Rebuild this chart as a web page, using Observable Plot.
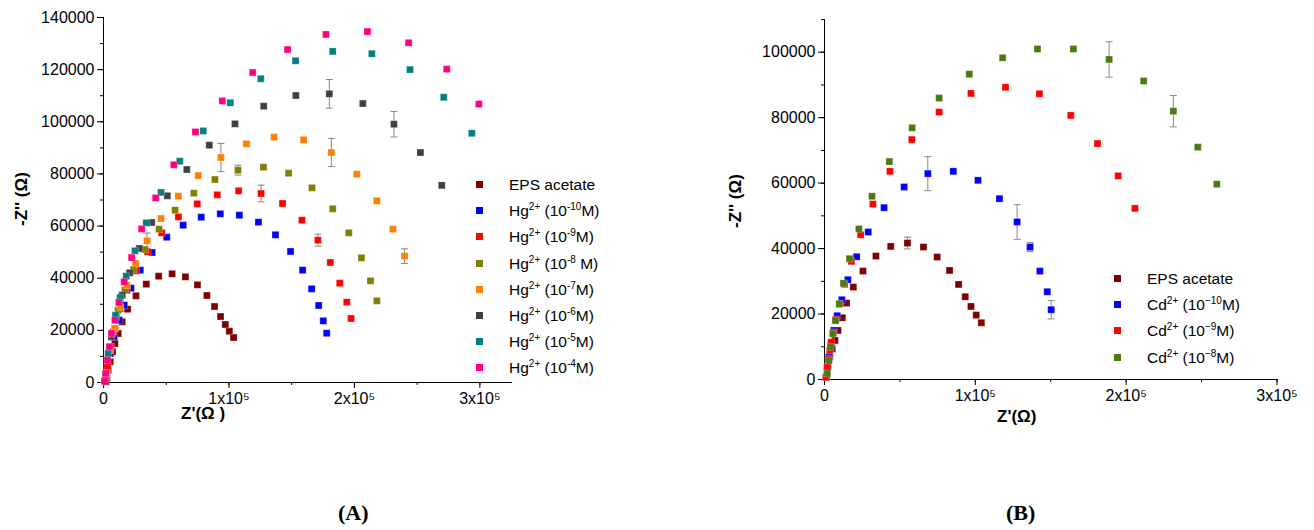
<!DOCTYPE html>
<html>
<head>
<meta charset="utf-8">
<script src="https://cdn.jsdelivr.net/npm/d3@7"></script>
<script src="https://cdn.jsdelivr.net/npm/@observablehq/plot@0.6"></script>
<style>
  body { margin: 0; background: #fff; font-family: "Liberation Sans", Arial, sans-serif; }
  #wrap { position: relative; width: 1314px; height: 530px; overflow: hidden; }
  .chart { position: absolute; top: 0; }
  .ylab { position: absolute; font-weight: bold; font-size: 17px; transform: rotate(-90deg); transform-origin: left top; white-space: nowrap; }
  .xlab { position: absolute; font-weight: bold; font-size: 17px; white-space: nowrap; }
  .legend { position: absolute; font-size: 15.5px; line-height: 26.2px; }
  .legend div { white-space: nowrap; height: 26.2px; }
  .legend sup { font-size: 10px; line-height: 0; vertical-align: 6px; }
  .legend span.sw { display: inline-block; width: 7px; height: 7px; margin-right: 26px; vertical-align: 2px; }
  .panel { position: absolute; top: 500px; font-family: "Liberation Serif", serif; font-size: 22px; }
</style>
</head>
<body>
<div id="wrap">
  <div id="chartA" class="chart" style="left:0"></div>
  <div id="chartB" class="chart" style="left:720px"></div>
  <div class="ylab" style="left:12px;top:226px">-Z'' (Ω)</div>
  <div class="xlab" style="left:181px;top:404px">Z'(Ω )</div>
  <div class="ylab" style="left:726px;top:228px">-Z'' (Ω)</div>
  <div class="xlab" style="left:997px;top:407px">Z'(Ω)</div>
  <div id="legA" class="legend" style="left:476px;top:172px"></div>
  <div id="legB" class="legend" style="left:1114px;top:266px"></div>
  <div class="panel" style="left:338px"><b>(A)</b></div>
  <div class="panel" style="left:1006px"><b>(B)</b></div>
</div>
<script>
// ---- panel A: Hg2+ ----
const hgNames = ["EPS acetate", "10-10", "10-9", "10-8 ", "10-7", "10-6", "10-5", "10-4"];
const hgColors = ["#7f0000", "#0000ff", "#ff0000", "#808000", "#ff8000", "#404040", "#008080", "#ff0080"];

const hgEps = [[103700,17260],[100300,19690],[97100,22250],[93300,25310],[88500,29150],[82400,33370],[74900,37460],[65300,40530],[54700,41680],[44000,40780],[34100,37720],[25900,33240],[19200,28130],[14900,23270],[11700,18790],[9100,14960],[7200,11760],[5300,7930],[3700,4730],[2700,1530],[2000,300]];
const hg10 = [[177900,18920],[175200,23650],[171500,29530],[165900,35920],[158700,43090],[149100,50250],[137100,56640],[123500,61500],[108300,64180],[93100,64690],[77900,63410],[63500,60350],[50400,55740],[38700,49860],[29300,43090],[21900,36180],[16500,29660],[12500,23910],[8500,17520],[5300,11120],[3200,6010],[1600,1530]];
const hg9 = [[197300,24550],[193900,30810],[188300,38100],[180800,46030],[170900,54590],[158200,62260],[142700,68660],[125600,72490],[107700,73520],[90700,71980],[74700,68530],[59700,63540],[46400,57400],[35200,50120],[25900,42830],[18700,35410],[13300,28380],[9100,20710],[5900,13680],[3200,6010],[1600,1530]];
const hg8 = [[217900,31320],[212800,38990],[205600,47820],[195500,57400],[182700,66610],[166200,74660],[147500,80290],[127500,82590],[107200,81440],[88800,77860],[72000,72620],[57100,66100],[44300,58810],[33100,51010],[24000,43340],[17100,35410],[11700,27740],[7500,19430],[4500,12400],[2100,3450]];
const hg7 = [[240000,48460],[230700,58810],[217900,69680],[201900,79910],[181600,88220],[159500,93080],[136000,94100],[113900,91540],[93600,86300],[75500,79390],[59700,71470],[45900,62900],[34700,54340],[25600,45640],[18700,37330],[13300,29020],[9100,20710],[5300,12400],[2700,3450]];
const hg6 = [[269600,75600],[252600,88220],[231500,99080],[206700,107010],[180000,110720],[153300,110080],[127700,105990],[104800,99210],[84300,91030],[66400,81700],[50900,71600],[38400,61370],[28500,51400],[20800,42060],[14900,33500],[10100,25190],[6400,17520],[3200,8560],[1600,2170]];
const hg5 = [[293600,95600],[271200,109400],[244300,120000],[213900,126100],[182700,127000],[153100,123400],[125400,116500],[101100,107300],[79500,96500],[60800,84900],[45900,72900],[34100,61200],[25100,50500],[18100,40800],[13300,32600],[9600,25800],[6400,18800],[3700,11100],[1600,3500]];
const hg4 = [[299200,106800],[273600,120200],[243200,130300],[210400,134600],[177300,133500],[146700,127700],[118900,118900],[94700,108000],[73300,96100],[56000,83500],[41600,70800],[30400,58900],[22400,47900],[16500,38600],[12300,30700],[9100,23900],[6400,18800],[4800,13700],[3200,8600],[1900,3500],[800,500]];
const hgSeries = [hgEps, hg10, hg9, hg8, hg7, hg6, hg5, hg4];
// error bars: [x, y, ±]
const hgErr = [[180000,110720,5500],[231500,99080,4900],[181600,88220,5400],[93600,86300,5400],[240000,48460,2800],[107200,81440,1900],[125600,72490,3200],[170900,54590,2300],[34700,54340,3000]];

// ---- panel B: Cd2+ ----
const cdNames = ["EPS acetate", "10−10", "10−9", "10−8"];
const cdColors = ["#7f0000", "#0000ff", "#ff0000", "#4a7a10"];
const cdEps = [[104000,17330],[100600,19670],[97100,22320],[93300,25280],[88900,29050],[82900,33330],[74700,37410],[65600,40470],[55000,41690],[43900,40670],[34100,37720],[25500,33130],[19100,28240],[14600,23340],[11800,18860],[8900,14990],[6900,11930],[5100,9380],[3500,6830],[2200,3770],[1300,710]];
const cd10 = [[150300,21310],[147700,26810],[142800,33130],[136300,40470],[127700,48120],[116000,55250],[101800,60860],[85400,63610],[68500,62900],[52800,58820],[39500,52500],[29000,45060],[21300,37510],[15500,30480],[11500,24360],[8400,19470],[6200,14990],[4400,10910],[2900,6830],[1800,2750]];
const cd9 = [[205800,52300],[194700,62200],[181000,72100],[163300,80700],[142500,87300],[120000,89300],[97100,87400],[76000,81700],[57900,73300],[43400,63600],[32100,53600],[24000,44200],[17800,36100],[13300,29100],[10000,23100],[7500,18300],[5800,14400],[4500,11400],[3500,8900],[2700,6300],[1800,3800],[900,700]];
const cd8 = [[260100,59700],[247500,71000],[231300,82000],[211600,91200],[188700,97800],[165000,101000],[141200,101000],[118100,98300],[96000,93300],[76000,86000],[58100,76900],[43000,66600],[31500,56000],[22800,46000],[16600,36900],[12600,29400],[9800,23100],[7300,18000],[5500,14000],[4000,9900],[2900,5800],[1800,1800]];
const cdSeries = [cdEps, cd10, cd9, cd8];
const cdErr = [[188700,97800,5400],[231300,82000,4800],[127700,48120,5300],[68500,62900,5200],[150300,21310,2800],[136300,40470,1400],[55000,41690,1800]];

const sciFmt = d => d === 0 ? "0" : (d / 1e5) + "x10⁵";

const capSymbol = {draw(ctx, size) { ctx.moveTo(-3.5, 0); ctx.lineTo(3.5, 0); }};

function nyquist(series, colors, errs, opts) {
  const rows = series.flatMap((s, i) => s.map(([x, y]) => ({x, y, k: i})));
  const caps = errs.flatMap(([x, y, e]) => [{x, y: y - e}, {x, y: y + e}]);
  return Plot.plot({
    width: opts.width, height: opts.height,
    marginLeft: opts.ml, marginRight: opts.mr, marginTop: opts.mt, marginBottom: opts.mb,
    style: {fontFamily: "Liberation Sans, Arial, sans-serif", fontSize: "16px", color: "#000", background: "transparent"},
    x: {domain: opts.xd, label: null},
    y: {domain: opts.yd, label: null},
    marks: [
      Plot.ruleX([opts.xd[0]]),
      Plot.ruleY([opts.yd[0]]),
      Plot.axisX({ticks: d3.range(0, 3.01e5, 5e4), tickSize: 3, tickFormat: () => "", label: null}),
      Plot.axisX({ticks: [0, 1e5, 2e5, 3e5], tickSize: 6, tickPadding: 4, tickFormat: sciFmt, fontSize: 16, label: null}),
      Plot.axisY({ticks: d3.range(0, opts.yd[1] + 1, opts.ystep / 2), tickSize: 3, tickFormat: () => "", label: null}),
      Plot.axisY({ticks: d3.range(0, opts.yd[1] + 1, opts.ystep), tickSize: 6, tickPadding: 3, tickFormat: d3.format("d"), fontSize: 16, label: null}),
      Plot.ruleX(errs, {x: d => d[0], y1: d => d[1] - d[2], y2: d => d[1] + d[2], stroke: "#888", strokeWidth: 1}),
      Plot.dot(caps, {x: "x", y: "y", symbol: capSymbol, stroke: "#888", strokeWidth: 1, r: 3}),
      Plot.dot(rows, {x: "x", y: "y", symbol: "square", r: 3.9, fill: d => colors[d.k], stroke: "white", strokeOpacity: 0.4, strokeWidth: 0.6})
    ]
  });
}

document.getElementById("chartA").append(nyquist(hgSeries, hgColors, hgErr,
  {width: 530, height: 420, ml: 103, mr: 18, mt: 17, mb: 38, xd: [0, 3.26e5], yd: [0, 140000], ystep: 20000}));
document.getElementById("chartB").append(nyquist(cdSeries, cdColors, cdErr,
  {width: 580, height: 420, ml: 104, mr: 22, mt: 19, mb: 41, xd: [0, 3.01e5], yd: [0, 110000], ystep: 20000}));

function legend(id, names, colors, ion) {
  const el = document.getElementById(id);
  names.forEach((n, i) => {
    const row = document.createElement("div");
    const exp = n.startsWith("10") ? n.slice(2) : null;
    row.innerHTML = `<span class="sw" style="background:${colors[i]}"></span>` +
      (exp === null ? n : `${ion}<sup>2+</sup> (10<sup>${exp.trim()}</sup>${exp.endsWith(" ") ? " " : ""}M)`);
    el.append(row);
  });
}
legend("legA", hgNames, hgColors, "Hg");
legend("legB", cdNames, cdColors, "Cd");
</script>
</body>
</html>
